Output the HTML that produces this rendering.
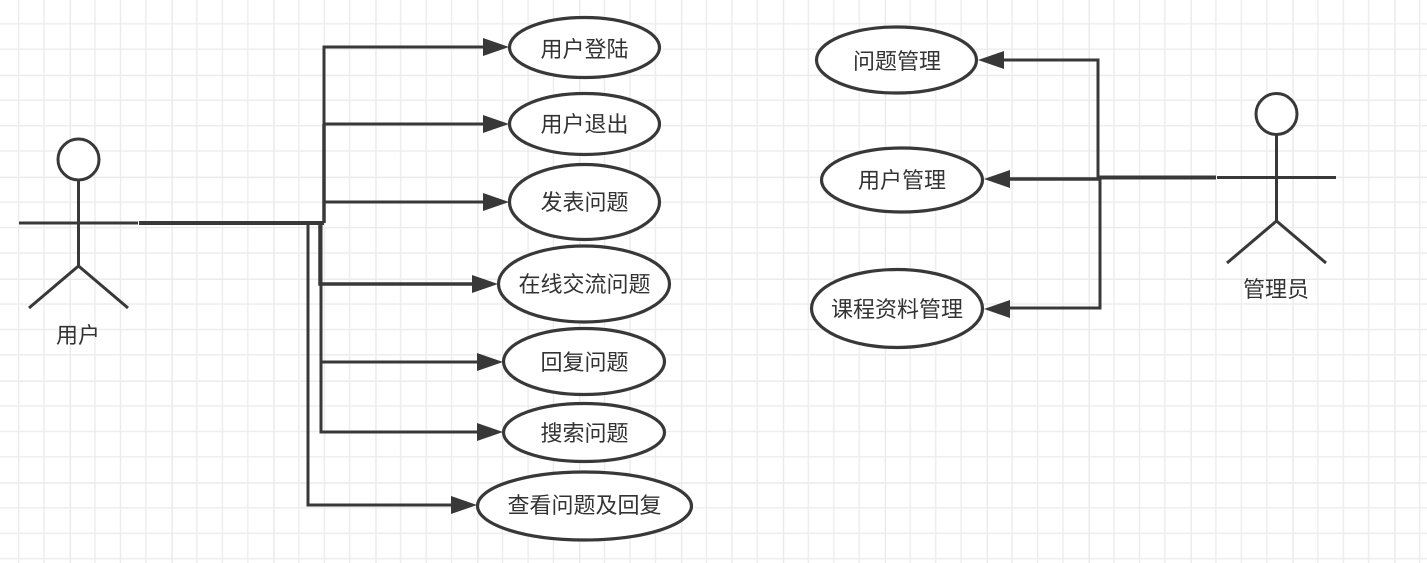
<!DOCTYPE html>
<html><head><meta charset="utf-8">
<style>
html,body{margin:0;padding:0;background:#fff;width:1427px;height:563px;overflow:hidden}
svg{display:block;filter:blur(0.35px)}
text{font-family:"Liberation Sans","Noto Sans CJK SC",sans-serif;font-size:22px;fill:#333;text-anchor:middle}
</style></head><body>
<svg width="1427" height="563" viewBox="0 0 1427 563" xmlns="http://www.w3.org/2000/svg">
<defs>
<pattern id="g" x="69.5" y="74.7" width="101.9" height="101.9" patternUnits="userSpaceOnUse">
<path d="M25.5 0V102M51 0V102M76.4 0V102M0 25.5H102M0 51H102M0 76.4H102" stroke="#ececec" stroke-width="1.4" fill="none"/>
<path d="M0 0V102M0 0H102" stroke="#ebebeb" stroke-width="3" fill="none"/>
</pattern>
</defs>
<rect width="1427" height="563" fill="#fff"/>
<rect width="1427" height="563" fill="url(#g)"/>

<!-- left actor -->
<g fill="none" stroke="#383838" stroke-width="3">
<circle cx="78.500" cy="159.500" r="20.500" fill="#fff" stroke-width="3"/>
<path d="M78.500 181V266M19 223H138M29 308L78.500 266L128 308"/>
</g>
<text x="78" y="343">用户</text>

<!-- left connectors -->
<g fill="none" stroke="#383838">
<path d="M139 223H324" stroke-width="4"/>
<path d="M324 223V47H490" stroke-width="3"/>
<path d="M324 223V124H490" stroke-width="3"/>
<path d="M324 223V124" stroke-width="3.500"/>
<path d="M324 223V202H490" stroke-width="3"/>
<path d="M320 223V284H485" stroke-width="3.500"/>
<path d="M321 223V362H490" stroke-width="3"/>
<path d="M321 223V432H490" stroke-width="3"/>
<path d="M308 223V505H460" stroke-width="3"/>
</g>
<g fill="#383838">
<polygon points="483,38 509,47 483,56"/>
<polygon points="483,115 509,124 483,133"/>
<polygon points="483,193 509,202 483,211"/>
<polygon points="472,275 498,284 472,293"/>
<polygon points="477,353 503,362 477,371"/>
<polygon points="477,423 503,432 477,441"/>
<polygon points="451,496 477,505 451,514"/>
</g>

<!-- left ellipses -->
<g fill="#fff" stroke="#383838" stroke-width="3.200">
<ellipse cx="584.500" cy="47.500" rx="75" ry="30"/>
<ellipse cx="584.500" cy="124" rx="75" ry="30.500"/>
<ellipse cx="584.500" cy="202" rx="75" ry="37.500"/>
<ellipse cx="584" cy="284" rx="85.500" ry="38"/>
<ellipse cx="584" cy="361.500" rx="80.500" ry="33"/>
<ellipse cx="584" cy="432.500" rx="80.500" ry="29"/>
<ellipse cx="584.500" cy="506" rx="107" ry="34"/>
</g>
<text x="584.500" y="57">用户登陆</text>
<text x="584.500" y="132">用户退出</text>
<text x="584.500" y="210">发表问题</text>
<text x="584.500" y="292">在线交流问题</text>
<text x="584.500" y="370">回复问题</text>
<text x="584.500" y="441">搜索问题</text>
<text x="584.500" y="513">查看问题及回复</text>

<!-- right connectors -->
<g fill="none" stroke="#383838">
<path d="M1098 178V60H1000" stroke-width="3"/>
<path d="M1100 179H1005" stroke-width="3.500"/>
<path d="M1100 178V308H1005" stroke-width="3"/>
<path d="M1097 177.500H1216" stroke-width="4"/>
</g>
<g fill="#383838">
<polygon points="978,60 1004,51 1004,69"/>
<polygon points="984,179 1010,170 1010,188"/>
<polygon points="984,309 1010,300 1010,318"/>
</g>

<!-- right ellipses -->
<g fill="#fff" stroke="#383838" stroke-width="3.200">
<ellipse cx="896.500" cy="60" rx="80" ry="33"/>
<ellipse cx="902" cy="180" rx="80.500" ry="32"/>
<ellipse cx="897" cy="308.500" rx="85.500" ry="39"/>
</g>
<text x="897" y="69">问题管理</text>
<text x="902" y="188">用户管理</text>
<text x="897" y="317">课程资料管理</text>

<!-- right actor -->
<g fill="none" stroke="#383838" stroke-width="3">
<circle cx="1276.500" cy="114" r="20.500" fill="#fff" stroke-width="3"/>
<path d="M1276.500 135V221M1217 177.500H1336M1227 263L1276.500 221L1326 263"/>
</g>
<text x="1276" y="297">管理员</text>
</svg>
</body></html>
